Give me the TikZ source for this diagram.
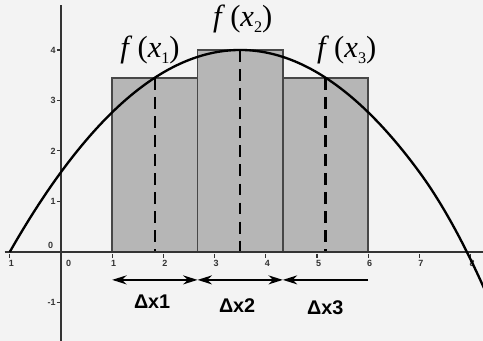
\documentclass[tikz,border=0pt]{standalone}
\usepackage{fontspec}
\setmainfont{Liberation Serif}
\newfontfamily\labsans{Liberation Sans}
\usetikzlibrary{arrows.meta}
\definecolor{bg}{HTML}{F3F3F3}
\definecolor{rectfill}{HTML}{B6B6B6}
\definecolor{axiscol}{HTML}{333333}
\tikzset{
  rectbox/.style={draw=axiscol!90, line width=0.9pt, fill=rectfill},
  midline/.style={line width=1.4pt, dash pattern=on 6.6pt off 4pt},
  flab/.style={font=\fontsize{17}{19}\selectfont},
  dlab/.style={font=\labsans\bfseries\fontsize{11}{12}\selectfont},
  ticklab/.style={font=\labsans\bfseries\fontsize{5}{6}\selectfont, text=axiscol, inner sep=0.5pt},
  spanarrow/.style={line width=1.1pt, -{Stealth[length=8pt,width=5pt]}},
  axisline/.style={line width=1pt, draw=axiscol},
}
\newcommand{\fx}[1]{\textit{f}\,(\textit{x}\raisebox{-0.45ex}{\fontsize{9}{9}\selectfont #1})}
\begin{document}
\begin{tikzpicture}[x=1cm,y=0.986cm]
\useasboundingbox (-1.191,-1.762) rectangle (8.242,4.99);
\fill[bg] (-1.191,-1.762) rectangle (8.242,4.99);
% rectangles
\draw[rectbox] (1,0) rectangle (2.667,3.45);
\draw[rectbox] (2.667,0) rectangle (4.333,4.0);
\draw[rectbox] (4.333,0) rectangle (6,3.45);
% dashed midlines
\draw[midline] (1.833,3.45) -- (1.833,0);
\draw[midline] (3.5,4.0) -- (3.5,0);
\draw[midline] (5.167,3.45) -- (5.167,0);
% axes
\draw[axisline] (-1.1,0) -- (8.242,0);
\draw[axisline] (0,-1.762) -- (0,4.9);
% x ticks
\foreach \i/\t in {-1/1,1/1,2/2,3/3,4/4,5/5,6/6,7/7,8/8} {
  \draw[axiscol, line width=0.6pt] (\i,-0.04) -- (\i,-0.12);
  \node[ticklab] (xt\i) at (\i+0.03,-0.23) {\t};
}
\node[ticklab] (xt0) at (0.15,-0.23) {0};
% y ticks
\foreach \j/\t in {1/1,2/2,3/3,4/4,-1/-1} {
  \draw[axiscol, line width=0.6pt] (-0.08,\j) -- (0,\j);
  \node[ticklab, anchor=east] (yt\j) at (-0.08,\j) {\t};
}
\node[ticklab] (yt0) at (-0.2,0.12) {0};
% curve
\draw[line width=1.3pt, black] plot[domain=-1:8.3, samples=140, smooth]
  (\x,{0.19753*(\x+1)*(8-\x) - (\x>7)*0.15*(\x-7)*(\x-7)});
% labels
\node[flab] (f1) at (1.74,4.0) {\fx{1}};
\node[flab] (f2) at (3.55,4.62) {\fx{2}};
\node[flab] (f3) at (5.58,4.0) {\fx{3}};
% span arrows
\coordinate (a0) at (1,-0.554);
\coordinate (a1) at (2.667,-0.554);
\coordinate (a2) at (4.333,-0.554);
\coordinate (a3) at (6,-0.554);
\coordinate (m1) at (1.833,-0.554);
\coordinate (m2) at (3.5,-0.554);
\draw[spanarrow] (m1) -- (a0);
\draw[spanarrow] (m1) -- (a1);
\draw[spanarrow] (m2) -- (a1);
\draw[spanarrow] (m2) -- (a2);
\draw[spanarrow] (a3) -- (a2);
\node[dlab] (d1) at (1.78,-0.99) {Δx1};
\node[dlab] (d2) at (3.44,-1.07) {Δx2};
\node[dlab] (d3) at (5.16,-1.11) {Δx3};
\end{tikzpicture}
\end{document}
